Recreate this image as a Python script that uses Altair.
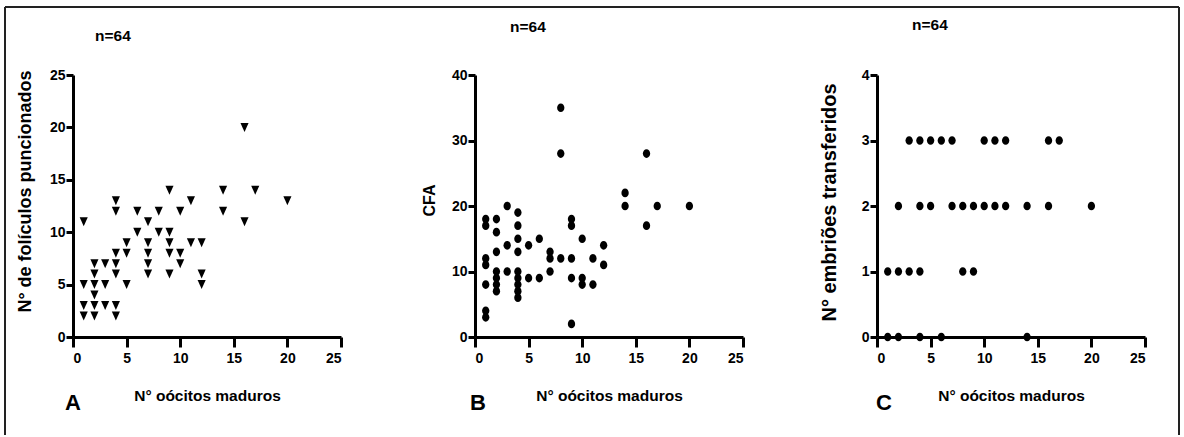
import altair as alt
import pandas as pd

# Panel A: mature oocytes vs. punctured follicles
A_x = [1, 1, 1, 1, 2, 2, 2, 2, 2, 2, 3, 3, 3, 4, 4, 4, 4, 4, 4, 4, 5, 5, 5, 6, 6,
       7, 7, 7, 7, 7, 8, 8, 9, 9, 9, 9, 9, 10, 10, 10, 11, 11, 12, 12, 12, 14, 14,
       16, 16, 17, 20]
A_y = [11, 5, 3, 2, 7, 6, 5, 4, 3, 2, 7, 5, 3, 13, 12, 8, 7, 6, 3, 2, 9, 8, 5, 12, 10,
       11, 9, 8, 7, 6, 12, 10, 14, 10, 9, 8, 6, 12, 8, 7, 13, 9, 9, 6, 5, 14, 12,
       20, 11, 14, 13]

# Panel B: mature oocytes vs. CFA
B_x = [1, 1, 1, 1, 1, 1, 1, 2, 2, 2, 2, 2, 2, 2, 3, 3, 3, 4, 4, 4, 4, 4, 4, 4, 4, 4,
       5, 5, 6, 6, 7, 7, 7, 8, 8, 8, 9, 9, 9, 9, 9, 10, 10, 10, 11, 11, 12, 12,
       14, 14, 16, 16, 17, 20]
B_y = [18, 17, 12, 11, 8, 4, 3, 18, 16, 13, 10, 9, 8, 7, 20, 14, 10, 19, 17, 15, 13, 10, 9, 8, 7, 6,
       14, 9, 15, 9, 13, 12, 10, 35, 28, 12, 18, 17, 12, 9, 2, 15, 9, 8, 12, 8, 14, 11,
       22, 20, 28, 17, 20, 20]

# Panel C: mature oocytes vs. transferred embryos
C_x = [3, 4, 5, 6, 7, 10, 11, 12, 16, 17,
       2, 4, 5, 7, 8, 9, 10, 11, 12, 14, 16, 20,
       1, 2, 3, 4, 8, 9,
       1, 2, 4, 6, 14]
C_y = [3, 3, 3, 3, 3, 3, 3, 3, 3, 3,
       2, 2, 2, 2, 2, 2, 2, 2, 2, 2, 2, 2,
       1, 1, 1, 1, 1, 1,
       0, 0, 0, 0, 0]

X_TICKS = [0, 5, 10, 15, 20, 25]
A_TICKS = [0, 5, 10, 15, 20, 25]
B_TICKS = [0, 10, 20, 30, 40]
C_TICKS = [0, 1, 2, 3, 4]

X_TITLE = "N° oócitos maduros"
Y_TITLES = ["N° de folículos puncionados", "CFA", "N° embriões transferidos"]
LETTERS = ["A", "B", "C"]
N_LABEL = "n=64"

FONT = "Liberation Sans, Arial, sans-serif"

W, H = 268, 262

TRIANGLE_DOWN = "M-0.9,-1L0.9,-1L0,1Z"
DOT = "M0,-1A0.84,1,0,1,1,0,1A0.84,1,0,1,1,0,-1Z"


def text_layer(txt, x, y, size, align="left"):
    return alt.Chart(pd.DataFrame({"t": [txt]})).mark_text(
        align=align, baseline="alphabetic", font=FONT, fontSize=size,
        fontWeight="bold", color="black"
    ).encode(text="t:N", x=alt.value(x), y=alt.value(y))


def panel(xs, ys, shape, size, ymax, yticks, ytitle, ytitle_size,
          ytitle_x, ytitle_y, letter, letter_x, n_x, n_y):
    df = pd.DataFrame({"x": xs, "y": ys})
    pts = alt.Chart(df).mark_point(
        shape=shape, size=size, filled=True, color="black", opacity=1
    ).encode(
        x=alt.X("x:Q", scale=alt.Scale(domain=[0, 25], nice=False),
                axis=alt.Axis(values=X_TICKS, title=X_TITLE,
                              titleFontSize=15.5, titleY=63,
                              titleBaseline="alphabetic",
                              tickSize=10, labelPadding=4)),
        y=alt.Y("y:Q", scale=alt.Scale(domain=[0, ymax], nice=False),
                axis=alt.Axis(values=yticks, title=ytitle,
                              titleFontSize=ytitle_size,
                              titleAngle=270, titleX=ytitle_x, titleY=ytitle_y,
                              titleAlign="center", titleBaseline="alphabetic",
                              tickSize=7, labelPadding=1)),
    )
    return [
        pts,
        text_layer(N_LABEL, n_x, n_y, 15.5),
        text_layer(letter, letter_x, 335, 22, align="center"),
    ]


def frame_rules():
    # outer frame: top, left and right edges
    one = pd.DataFrame({"k": [0]})
    base = alt.Chart(one).mark_rule(color="#222222", strokeWidth=2)
    top = base.encode(x=alt.value(-68), x2=alt.value(1106), y=alt.value(-68))
    left = base.encode(x=alt.value(-68), y=alt.value(-68), y2=alt.value(360))
    right = base.encode(x=alt.value(1106), y=alt.value(-68), y2=alt.value(360))
    return [top, left, right]


pa = alt.layer(*(frame_rules() + panel(A_x, A_y, TRIANGLE_DOWN, 81, 25, A_TICKS, Y_TITLES[0], 18,
                                       -43, 116, LETTERS[0], 0, 22, -34))).properties(width=W, height=H)
pb = alt.layer(*panel(B_x, B_y, DOT, 76, 40, B_TICKS, Y_TITLES[1], 16,
                      -41, 125, LETTERS[1], 3, 35, -43)).properties(width=W, height=H)
pc = alt.layer(*panel(C_x, C_y, DOT, 76, 4, C_TICKS, Y_TITLES[2], 20,
                      -42, 127, LETTERS[2], 7, 35, -45)).properties(width=W, height=H)

chart = alt.hconcat(pa, pb, pc, spacing=134, bounds="flush").properties(
    padding={"left": 3, "top": 5, "right": 0, "bottom": 0}
).configure_axis(
    grid=False, domainColor="black", domainWidth=3, tickColor="black", tickWidth=3,
    labelColor="black", labelFont=FONT, labelFontSize=14, labelFontWeight="bold",
    titleColor="black", titleFont=FONT, titleFontWeight="bold"
).configure_view(stroke="transparent")

chart.save("out.html", embed_options={"renderer": "svg", "actions": False})
